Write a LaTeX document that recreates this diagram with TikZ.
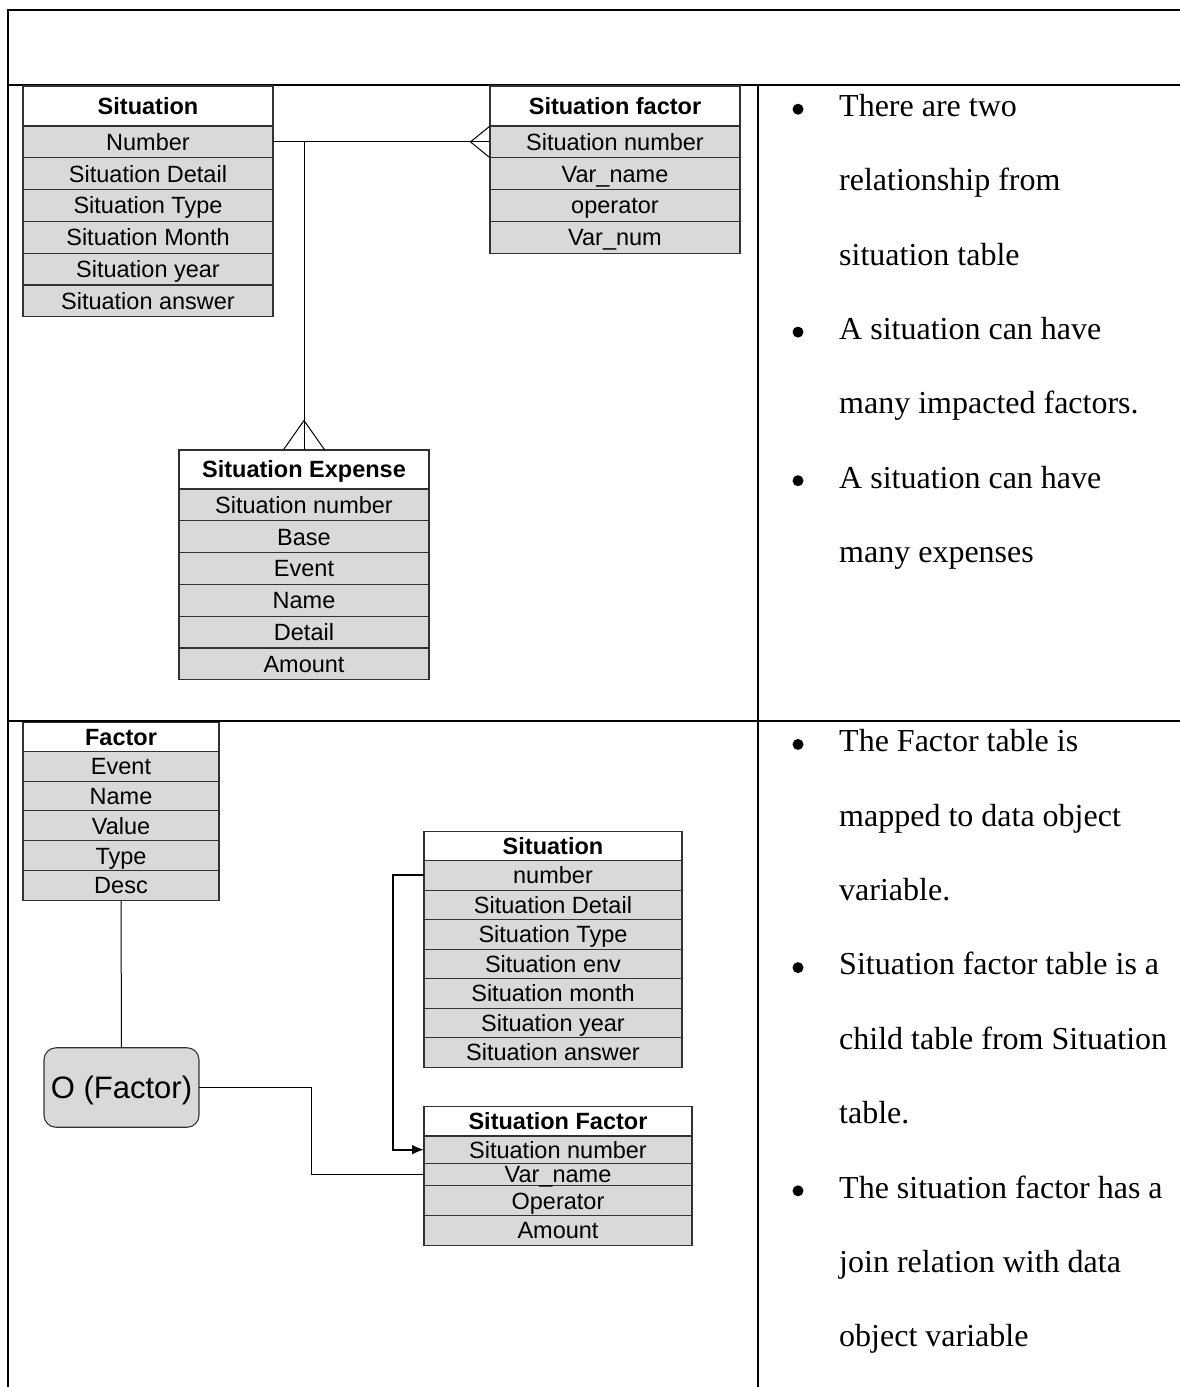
\documentclass[tikz,border=0pt]{standalone}
\usepackage{fontspec}
\setmainfont{Liberation Serif}
\setsansfont{Liberation Sans}
\usetikzlibrary{arrows.meta}
\definecolor{rowgray}{RGB}{217,217,217}
\definecolor{edgegray}{RGB}{50,50,50}
\newcommand\erfnt{\sffamily\fontsize{23.5pt}{28pt}\selectfont}
\newcommand\notefnt{\rmfamily\fontsize{32pt}{38pt}\selectfont}
\begin{document}
\begin{tikzpicture}[x=1pt,y=-1pt,
  tbl/.style={draw=edgegray, line width=1.1pt, inner sep=0pt, outer sep=0pt,
              anchor=north west, font=\erfnt, text=black,
              text height=16.8pt, text depth=0pt},
  hdr/.style={tbl, fill=white, font=\erfnt\bfseries},
  fld/.style={tbl, fill=rowgray},
  frame/.style={line width=2pt, black},
  link/.style={line width=1pt, black},
  note/.style={anchor=base west, inner sep=0pt, font=\notefnt},
  bul/.style={circle, fill=black, inner sep=0pt, minimum size=11pt}]
\useasboundingbox (0,0) rectangle (1180,1387);

% layout grid
\draw[frame] (8,1387) -- (8,10) -- (1180,10);
\draw[frame] (8,85) -- (1180,85);
\draw[frame] (757.5,85) -- (757.5,1387);
\draw[frame] (8,720.5) -- (1180,720.5);

% ---------- upper model ----------
\node[hdr, minimum width=250pt, minimum height=40pt] (t1h) at (23,86) {Situation};
\foreach \txt [count=\i] in {Number, Situation Detail, Situation Type,
    Situation Month, Situation year, Situation answer}
  \node[fld, minimum width=250pt, minimum height=31.8pt] (t1r\i)
    at (23,{126+31.8*(\i-1)}) {\txt};

\node[hdr, minimum width=250pt, minimum height=40pt] (sf1h) at (490,86) {Situation factor};
\foreach \txt [count=\i] in {Situation number, Var\_name, operator, Var\_num}
  \node[fld, minimum width=250pt, minimum height=31.8pt] (sf1r\i)
    at (490,{126+31.8*(\i-1)}) {\txt};

\node[hdr, minimum width=250pt, minimum height=39pt] (seh) at (179,450) {Situation Expense};
\foreach \txt [count=\i] in {Situation number, Base, Event, Name, Detail, Amount}
  \node[fld, minimum width=250pt, minimum height=31.8pt] (ser\i)
    at (179,{489+31.8*(\i-1)}) {\txt};

% one-to-many: Situation -> Situation factor
\draw[link] (t1r1.east) -- (sf1r1.west);
\draw[link] (sf1r1.north west) -- ([xshift=-19.5pt]sf1r1.west) -- (sf1r1.south west);
% one-to-many: Situation -> Situation Expense
\draw[link] (seh.north |- t1r1.east) -- (seh.north);
\draw[link] ([xshift=-20.7pt]seh.north) -- ([yshift=29.5pt]seh.north) -- ([xshift=20.7pt]seh.north);

% ---------- lower model ----------
\node[hdr, minimum width=196pt, minimum height=28.6pt] (fah) at (23,722.7) {Factor};
\foreach \txt [count=\i] in {Event, Name, Value, Type, Desc}
  \node[fld, minimum width=196pt, minimum height=29.8pt] (far\i)
    at (23,{751.3+29.8*(\i-1)}) {\txt};

\node[fld, rounded corners=12pt, minimum width=155pt, minimum height=79.5pt,
      anchor=center, text height=22.5pt,
      font=\sffamily\fontsize{31pt}{36pt}\selectfont] (ofac)
  at (121.5,1087.5) {O (Factor)};

\node[hdr, minimum width=258pt, minimum height=29pt] (s2h) at (424,831.7) {Situation};
\foreach \txt [count=\i] in {number, Situation Detail, Situation Type, Situation env,
    Situation month, Situation year, Situation answer}
  \node[fld, minimum width=258pt, minimum height=29.5pt] (s2r\i)
    at (424,{860.7+29.5*(\i-1)}) {\txt};

% the narrow Var_name row is set last so its underscore stays on top
\node[hdr, minimum width=268pt, minimum height=29.3pt] (sf2h) at (424,1106.7) {Situation Factor};
\node[fld, minimum width=268pt, minimum height=27.3pt] (sf2r1) at (424,1136) {Situation number};
\node[fld, minimum width=268pt, minimum height=30pt] (sf2r3) at (424,1185.7) {Operator};
\node[fld, minimum width=268pt, minimum height=29.6pt] (sf2r4) at (424,1215.7) {Amount};
\node[fld, minimum width=268pt, minimum height=22.4pt] (sf2r2) at (424,1163.3) {Var\_name};

% connectors
\draw[link] (far5.south) -- (ofac.north);
\draw[link] (ofac.east) -- ++(112.7,0) |- (sf2r2.west);
\draw[line width=2pt, -{Latex[length=12pt,width=10pt]}]
  (s2r1.west) -- ++(-31,0) |- (sf2r1.west);

% ---------- notes, upper ----------
\node[bul] (ub1) at (798,109.2) {};
\node[note] (u1) at (839,116.5) {There are two};
\node[note] (u2) at (839,190.8) {relationship from};
\node[note] (u3) at (839,265.1) {situation table};
\node[bul] (ub2) at (798,332.1) {};
\node[note] (u4) at (839,339.4) {A situation can have};
\node[note] (u5) at (839,413.7) {many impacted factors.};
\node[bul] (ub3) at (798,480.7) {};
\node[note] (u6) at (839,488.0) {A situation can have};
\node[note] (u7) at (839,562.3) {many expenses};

% ---------- notes, lower ----------
\node[bul] (lb1) at (798,744.4) {};
\node[note] (l1) at (839,751.7) {The Factor table is};
\node[note] (l2) at (839,826.1) {mapped to data object};
\node[note] (l3) at (839,900.5) {variable.};
\node[bul] (lb2) at (798,967.6) {};
\node[note] (l4) at (839,974.9) {Situation factor table is a};
\node[note] (l5) at (839,1049.3) {child table from Situation};
\node[note] (l6) at (839,1123.7) {table.};
\node[bul] (lb3) at (798,1190.8) {};
\node[note] (l7) at (839,1198.1) {The situation factor has a};
\node[note] (l8) at (839,1272.5) {join relation with data};
\node[note] (l9) at (839,1346.9) {object variable};
\end{tikzpicture}
\end{document}
